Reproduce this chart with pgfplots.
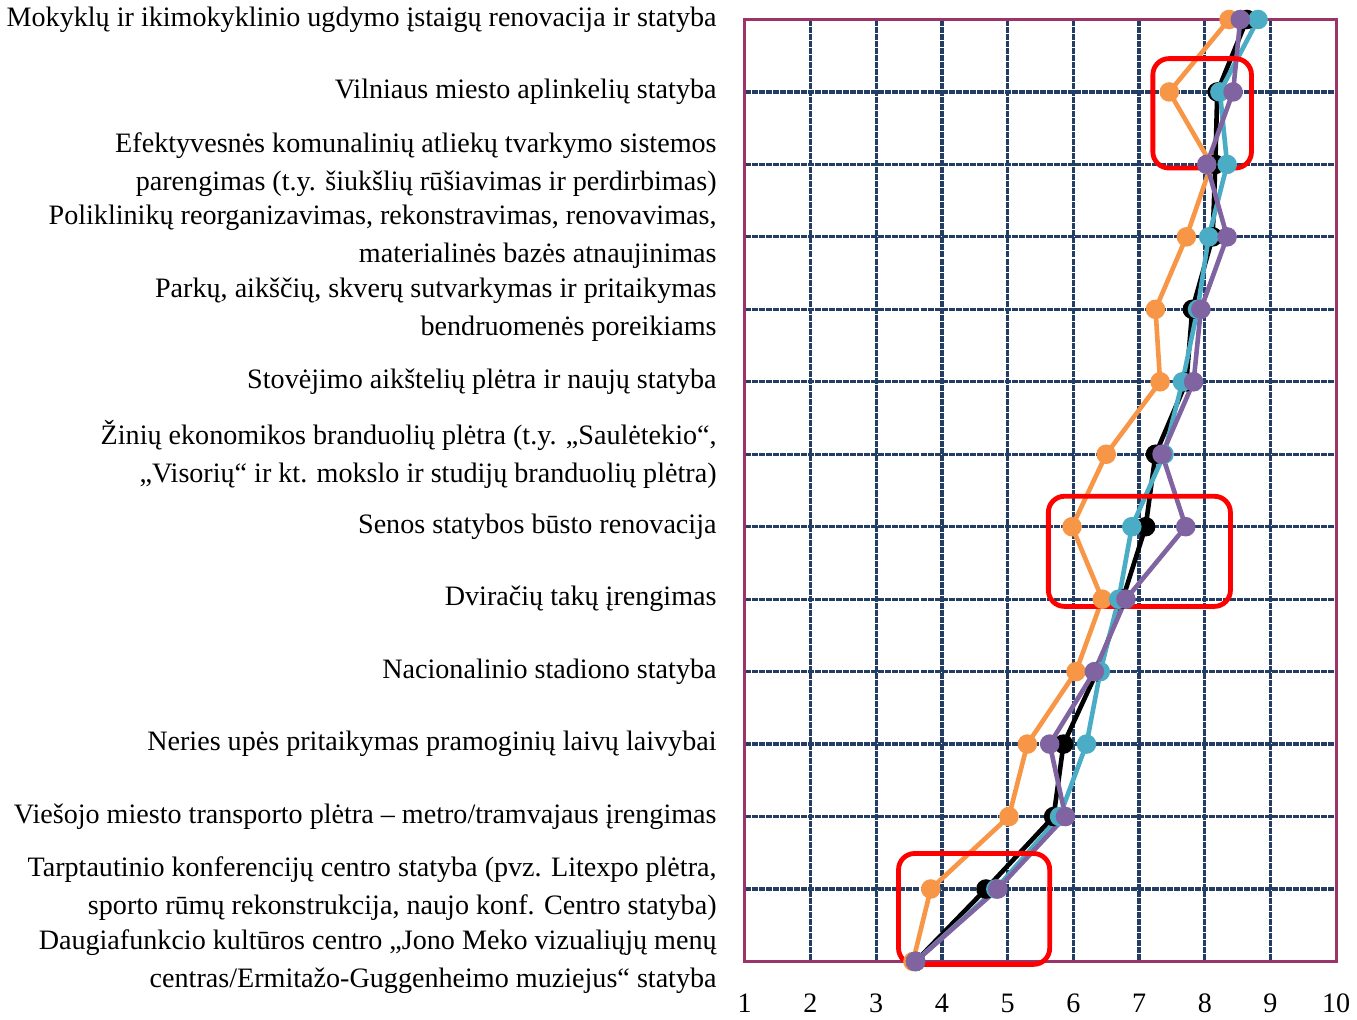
\documentclass[border=0pt]{standalone}
\usepackage{pgfplots}
\pgfplotsset{compat=1.18}
\usepackage{pgfplotstable}
\usepackage{fontspec}
\setmainfont{Liberation Serif}
\definecolor{cOrange}{RGB}{247,150,70}
\definecolor{cTeal}{RGB}{75,172,198}
\definecolor{cPurple}{RGB}{128,100,162}
\definecolor{cGrid}{RGB}{36,62,99}
\definecolor{cBorder}{RGB}{155,52,104}
\pgfplotstableread{
i orange black teal purple
0 8.37 8.64 8.81 8.54
1 7.46 8.19 8.23 8.43
2 8.10 8.16 8.34 8.03
3 7.72 8.12 8.06 8.34
4 7.25 7.81 7.89 7.94
5 7.32 7.72 7.66 7.83
6 6.50 7.25 7.38 7.35
7 5.98 7.10 6.89 7.71
8 6.44 6.75 6.69 6.80
9 6.04 6.36 6.41 6.32
10 5.30 5.85 6.20 5.64
11 5.02 5.70 5.79 5.88
12 3.83 4.67 4.82 4.85
13 3.56 3.60 3.60 3.60
}\data
\begin{document}
\begin{tikzpicture}
\begin{axis}[
  scale only axis,
  width=294.5pt, height=469pt,
  xmin=1, xmax=10, ymin=0, ymax=13,
  y dir=reverse,
  clip=false,
  xtick={1,...,10},
  ytick={0,...,13},
  yticklabels={
    {Mokyklų ir ikimokyklinio ugdymo įstaigų renovacija ir statyba},
    {Vilniaus miesto aplinkelių statyba},
    {Efektyvesnės komunalinių atliekų tvarkymo sistemos\\parengimas (t.y. šiukšlių rūšiavimas ir perdirbimas)},
    {Poliklinikų reorganizavimas, rekonstravimas, renovavimas,\\materialinės bazės atnaujinimas},
    {Parkų, aikščių, skverų sutvarkymas ir pritaikymas\\bendruomenės poreikiams},
    {Stovėjimo aikštelių plėtra ir naujų statyba},
    {Žinių ekonomikos branduolių plėtra (t.y. „Saulėtekio“,\\„Visorių“ ir kt. mokslo ir studijų branduolių plėtra)},
    {Senos statybos būsto renovacija},
    {Dviračių takų įrengimas},
    {Nacionalinio stadiono statyba},
    {Neries upės pritaikymas pramoginių laivų laivybai},
    {Viešojo miesto transporto plėtra – metro/tramvajaus įrengimas},
    {Tarptautinio konferencijų centro statyba (pvz. Litexpo plėtra,\\sporto rūmų rekonstrukcija, naujo konf. Centro statyba)},
    {Daugiafunkcio kultūros centro „Jono Meko vizualiųjų menų\\centras/Ermitažo-Guggenheimo muziejus“ statyba}
  },
  yticklabel style={align=right, font=\fontsize{14}{19}\selectfont, xshift=-10.5pt},
  xticklabel style={font=\fontsize{14}{16}\selectfont, yshift=-12.5pt},
  /pgf/number format/assume math mode=true,
  major tick length=0pt,
  grid=major,
  major grid style={draw=cGrid, line width=1.6pt, dash pattern=on 3pt off 0.5pt},
  axis line style={draw=cBorder, line width=1.6pt},
  every axis plot/.append style={line width=2.3pt, mark=*, mark size=3.7pt},
]
\addplot[color=cOrange, mark options={fill=cOrange, draw=cOrange}] table[x=orange, y=i] {\data};
\addplot[color=black, mark options={fill=black, draw=black}] table[x=black, y=i] {\data};
\addplot[color=cTeal, mark options={fill=cTeal, draw=cTeal}] table[x=teal, y=i] {\data};
\addplot[color=cPurple, mark options={fill=cPurple, draw=cPurple}] table[x=purple, y=i] {\data};
\draw[red, line width=2.4pt, rounded corners=8pt] (axis cs:7.21,0.54) rectangle (axis cs:8.71,2.05);
\draw[red, line width=2.4pt, rounded corners=8pt] (axis cs:5.62,6.58) rectangle (axis cs:8.39,8.10);
\draw[red, line width=2.4pt, rounded corners=8pt] (axis cs:3.34,11.51) rectangle (axis cs:5.64,13.04);
\end{axis}
\end{tikzpicture}
\end{document}
